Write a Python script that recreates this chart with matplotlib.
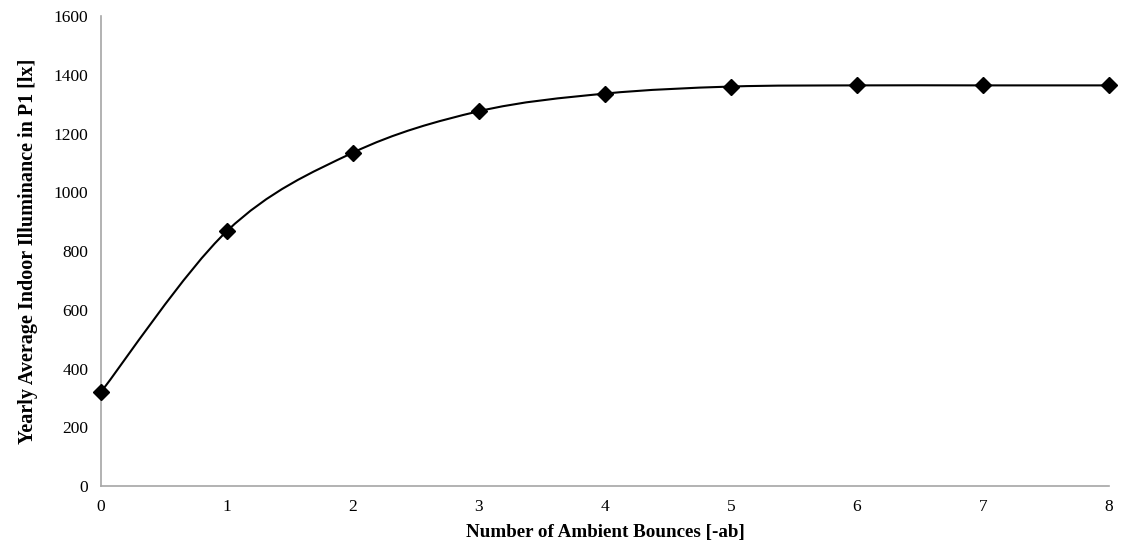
import matplotlib
matplotlib.use("Agg")
import matplotlib.pyplot as plt
from matplotlib.path import Path
from matplotlib.patches import PathPatch

plt.rcParams['font.family'] = ['Liberation Serif', 'DejaVu Serif']

# data
bounces = [0, 1, 2, 3, 4, 5, 6, 7, 8]
illuminance = [320, 868, 1135, 1276, 1336, 1360, 1364, 1364, 1364]

fig = plt.figure(figsize=(11.28, 5.54), dpi=100)
ax = fig.add_axes([0.0895, 0.1227, 0.8935, 0.8483])

# Excel style smoothed line: cubic bezier between points
verts = [(bounces[0], illuminance[0])]
codes = [Path.MOVETO]
n = len(bounces)
for i in range(n - 1):
    x0, y0 = bounces[max(i - 1, 0)], illuminance[max(i - 1, 0)]
    x1, y1 = bounces[i], illuminance[i]
    x2, y2 = bounces[i + 1], illuminance[i + 1]
    x3, y3 = bounces[min(i + 2, n - 1)], illuminance[min(i + 2, n - 1)]
    c1 = (x1 + (x2 - x0) / 6.0, y1 + (y2 - y0) / 6.0)
    c2 = (x2 - (x3 - x1) / 6.0, y2 - (y3 - y1) / 6.0)
    verts += [c1, c2, (x2, y2)]
    codes += [Path.CURVE4] * 3
ax.add_patch(PathPatch(Path(verts, codes), facecolor='none',
                       edgecolor='black', lw=1.5, zorder=2))
ax.plot(bounces, illuminance, linestyle='none', marker='D', markersize=8,
        color='black', zorder=3, clip_on=False)

ax.set_xlim(0, 8)
ax.set_ylim(0, 1600)
ax.set_xticks(bounces)
ax.set_yticks(range(0, 1601, 200))
ax.tick_params(length=0, labelsize=12.5, pad=9)
for s in ['top', 'right']:
    ax.spines[s].set_visible(False)
for s in ['left', 'bottom']:
    ax.spines[s].set_color('#a6a6a6')
    ax.spines[s].set_linewidth(1.2)

ax.set_xlabel('Number of Ambient Bounces [-ab]', fontsize=13.7, fontweight='bold', labelpad=7)
ax.set_ylabel('Yearly Average Indoor Illuminance in P1 [lx]', fontsize=14.5,
              fontweight='bold', labelpad=11)

fig.savefig('out.png', dpi=100)
